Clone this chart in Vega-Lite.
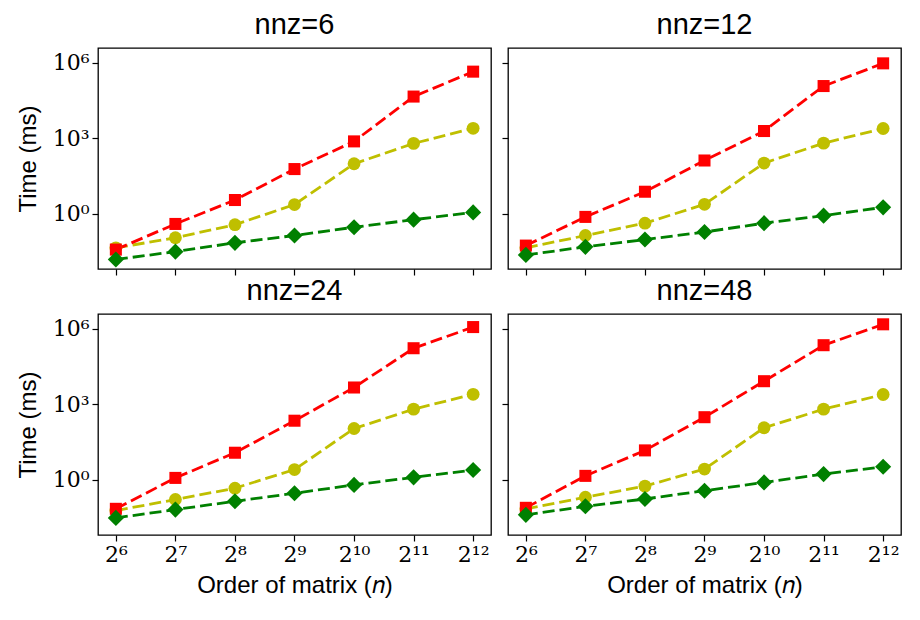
{
  "$schema": "https://vega.github.io/schema/vega-lite/v6.json",
  "background": "white",
  "padding": {"left": 15, "top": 10, "right": 8, "bottom": 5},
  "spacing": -1,
  "config": {
    "view": {"stroke": "black", "strokeWidth": 1.3},
    "axis": {
      "domain": false,
      "grid": false,
      "ticks": true,
      "tickColor": "black",
      "tickSize": 6,
      "tickWidth": 1.2,
      "labelFont": "DejaVu Serif",
      "labelFontSize": 22,
      "labelColor": "black",
      "labelPadding": 3,
      "titleFont": "Liberation Sans",
      "titleFontSize": 24,
      "titleFontWeight": "normal",
      "titleColor": "black"
    },
    "title": {"font": "Liberation Sans", "fontSize": 29, "fontWeight": "normal", "color": "black", "offset": 8},
    "concat": {"spacing": 8}
  },
  "data": {
    "values": [
      {"nnz": 6, "n": 64, "series": "s2", "time": 0.0437},
      {"nnz": 6, "n": 128, "series": "s2", "time": 0.110},
      {"nnz": 6, "n": 256, "series": "s2", "time": 0.363},
      {"nnz": 6, "n": 512, "series": "s2", "time": 2.29},
      {"nnz": 6, "n": 1024, "series": "s2", "time": 95.5},
      {"nnz": 6, "n": 2048, "series": "s2", "time": 617},
      {"nnz": 6, "n": 4096, "series": "s2", "time": 2450},
      {"nnz": 6, "n": 64, "series": "s1", "time": 0.0372},
      {"nnz": 6, "n": 128, "series": "s1", "time": 0.389},
      {"nnz": 6, "n": 256, "series": "s1", "time": 3.47},
      {"nnz": 6, "n": 512, "series": "s1", "time": 58.9},
      {"nnz": 6, "n": 1024, "series": "s1", "time": 741},
      {"nnz": 6, "n": 2048, "series": "s1", "time": 44700},
      {"nnz": 6, "n": 4096, "series": "s1", "time": 437000},
      {"nnz": 6, "n": 64, "series": "s3", "time": 0.0151},
      {"nnz": 6, "n": 128, "series": "s3", "time": 0.0309},
      {"nnz": 6, "n": 256, "series": "s3", "time": 0.0692},
      {"nnz": 6, "n": 512, "series": "s3", "time": 0.135},
      {"nnz": 6, "n": 1024, "series": "s3", "time": 0.288},
      {"nnz": 6, "n": 2048, "series": "s3", "time": 0.575},
      {"nnz": 6, "n": 4096, "series": "s3", "time": 1.12},

      {"nnz": 12, "n": 64, "series": "s2", "time": 0.0437},
      {"nnz": 12, "n": 128, "series": "s2", "time": 0.135},
      {"nnz": 12, "n": 256, "series": "s2", "time": 0.417},
      {"nnz": 12, "n": 512, "series": "s2", "time": 2.34},
      {"nnz": 12, "n": 1024, "series": "s2", "time": 102},
      {"nnz": 12, "n": 2048, "series": "s2", "time": 631},
      {"nnz": 12, "n": 4096, "series": "s2", "time": 2400},
      {"nnz": 12, "n": 64, "series": "s1", "time": 0.0537},
      {"nnz": 12, "n": 128, "series": "s1", "time": 0.741},
      {"nnz": 12, "n": 256, "series": "s1", "time": 7.41},
      {"nnz": 12, "n": 512, "series": "s1", "time": 129},
      {"nnz": 12, "n": 1024, "series": "s1", "time": 1910},
      {"nnz": 12, "n": 2048, "series": "s1", "time": 117000},
      {"nnz": 12, "n": 4096, "series": "s1", "time": 933000},
      {"nnz": 12, "n": 64, "series": "s3", "time": 0.0229},
      {"nnz": 12, "n": 128, "series": "s3", "time": 0.0479},
      {"nnz": 12, "n": 256, "series": "s3", "time": 0.0933},
      {"nnz": 12, "n": 512, "series": "s3", "time": 0.186},
      {"nnz": 12, "n": 1024, "series": "s3", "time": 0.417},
      {"nnz": 12, "n": 2048, "series": "s3", "time": 0.832},
      {"nnz": 12, "n": 4096, "series": "s3", "time": 1.78},

      {"nnz": 24, "n": 64, "series": "s2", "time": 0.0589},
      {"nnz": 24, "n": 128, "series": "s2", "time": 0.162},
      {"nnz": 24, "n": 256, "series": "s2", "time": 0.457},
      {"nnz": 24, "n": 512, "series": "s2", "time": 2.51},
      {"nnz": 24, "n": 1024, "series": "s2", "time": 107},
      {"nnz": 24, "n": 2048, "series": "s2", "time": 631},
      {"nnz": 24, "n": 4096, "series": "s2", "time": 2450},
      {"nnz": 24, "n": 64, "series": "s1", "time": 0.0692},
      {"nnz": 24, "n": 128, "series": "s1", "time": 1.17},
      {"nnz": 24, "n": 256, "series": "s1", "time": 11.7},
      {"nnz": 24, "n": 512, "series": "s1", "time": 219},
      {"nnz": 24, "n": 1024, "series": "s1", "time": 4570},
      {"nnz": 24, "n": 2048, "series": "s1", "time": 166000},
      {"nnz": 24, "n": 4096, "series": "s1", "time": 1150000},
      {"nnz": 24, "n": 64, "series": "s3", "time": 0.0302},
      {"nnz": 24, "n": 128, "series": "s3", "time": 0.0646},
      {"nnz": 24, "n": 256, "series": "s3", "time": 0.138},
      {"nnz": 24, "n": 512, "series": "s3", "time": 0.288},
      {"nnz": 24, "n": 1024, "series": "s3", "time": 0.617},
      {"nnz": 24, "n": 2048, "series": "s3", "time": 1.23},
      {"nnz": 24, "n": 4096, "series": "s3", "time": 2.40},

      {"nnz": 48, "n": 64, "series": "s2", "time": 0.0692},
      {"nnz": 48, "n": 128, "series": "s2", "time": 0.200},
      {"nnz": 48, "n": 256, "series": "s2", "time": 0.550},
      {"nnz": 48, "n": 512, "series": "s2", "time": 2.63},
      {"nnz": 48, "n": 1024, "series": "s2", "time": 115},
      {"nnz": 48, "n": 2048, "series": "s2", "time": 631},
      {"nnz": 48, "n": 4096, "series": "s2", "time": 2400},
      {"nnz": 48, "n": 64, "series": "s1", "time": 0.0759},
      {"nnz": 48, "n": 128, "series": "s1", "time": 1.41},
      {"nnz": 48, "n": 256, "series": "s1", "time": 14.5},
      {"nnz": 48, "n": 512, "series": "s1", "time": 302},
      {"nnz": 48, "n": 1024, "series": "s1", "time": 8130},
      {"nnz": 48, "n": 2048, "series": "s1", "time": 219000},
      {"nnz": 48, "n": 4096, "series": "s1", "time": 1480000},
      {"nnz": 48, "n": 64, "series": "s3", "time": 0.0398},
      {"nnz": 48, "n": 128, "series": "s3", "time": 0.0871},
      {"nnz": 48, "n": 256, "series": "s3", "time": 0.170},
      {"nnz": 48, "n": 512, "series": "s3", "time": 0.363},
      {"nnz": 48, "n": 1024, "series": "s3", "time": 0.776},
      {"nnz": 48, "n": 2048, "series": "s3", "time": 1.66},
      {"nnz": 48, "n": 4096, "series": "s3", "time": 3.24}
    ]
  },
  "vconcat": [
    {
      "hconcat": [
        {
          "width": 393, "height": 221,
          "title": "nnz=6",
          "transform": [{"filter": "datum.nnz == 6"}],
          "encoding": {
            "x": {"field": "n", "type": "quantitative", "scale": {"type": "log", "base": 2, "domain": [51.99, 5042.6], "nice": false},
                  "axis": {"values": [64, 128, 256, 512, 1024, 2048, 4096], "labels": false, "title": null}},
            "y": {"field": "time", "type": "quantitative", "scale": {"type": "log", "domain": [0.00631, 3800000], "nice": false},
                  "axis": {"values": [1, 1000, 1000000], "labelExpr": "datum.value < 10 ? '10⁰' : datum.value < 10000 ? '10³' : '10⁶'", "title": "Time (ms)", "titlePadding": 12}},
            "color": {"field": "series", "type": "nominal", "scale": {"domain": ["s1", "s2", "s3"], "range": ["#ff0000", "#bfbf00", "#008000"]}, "legend": null}
          },
          "layer": [
            {"mark": {"type": "line", "strokeDash": [12, 5], "strokeWidth": 2.8}, "encoding": {"detail": {"field": "series"}}},
            {"mark": {"type": "point", "filled": true, "opacity": 1}, "encoding": {
              "shape": {"field": "series", "type": "nominal", "scale": {"domain": ["s1", "s2", "s3"], "range": ["square", "circle", "M-1,0L0,-1L1,0L0,1Z"]}, "legend": null},
              "size": {"field": "series", "type": "nominal", "scale": {"type": "ordinal", "domain": ["s1", "s2", "s3"], "range": [145, 165, 260]}, "legend": null}}}
          ]
        },
        {
          "width": 393, "height": 221,
          "title": "nnz=12",
          "transform": [{"filter": "datum.nnz == 12"}],
          "encoding": {
            "x": {"field": "n", "type": "quantitative", "scale": {"type": "log", "base": 2, "domain": [51.99, 5042.6], "nice": false},
                  "axis": {"values": [64, 128, 256, 512, 1024, 2048, 4096], "labels": false, "title": null}},
            "y": {"field": "time", "type": "quantitative", "scale": {"type": "log", "domain": [0.00631, 3800000], "nice": false},
                  "axis": {"values": [1, 1000, 1000000], "labels": false, "title": null}},
            "color": {"field": "series", "type": "nominal", "scale": {"domain": ["s1", "s2", "s3"], "range": ["#ff0000", "#bfbf00", "#008000"]}, "legend": null}
          },
          "layer": [
            {"mark": {"type": "line", "strokeDash": [12, 5], "strokeWidth": 2.8}, "encoding": {"detail": {"field": "series"}}},
            {"mark": {"type": "point", "filled": true, "opacity": 1}, "encoding": {
              "shape": {"field": "series", "type": "nominal", "scale": {"domain": ["s1", "s2", "s3"], "range": ["square", "circle", "M-1,0L0,-1L1,0L0,1Z"]}, "legend": null},
              "size": {"field": "series", "type": "nominal", "scale": {"type": "ordinal", "domain": ["s1", "s2", "s3"], "range": [145, 165, 260]}, "legend": null}}}
          ]
        }
      ]
    },
    {
      "hconcat": [
        {
          "width": 393, "height": 221,
          "title": "nnz=24",
          "transform": [{"filter": "datum.nnz == 24"}],
          "encoding": {
            "x": {"field": "n", "type": "quantitative", "scale": {"type": "log", "base": 2, "domain": [51.99, 5042.6], "nice": false},
                  "axis": {"values": [64, 128, 256, 512, 1024, 2048, 4096], "labelExpr": "'2' + ['⁶','⁷','⁸','⁹','¹⁰','¹¹','¹²'][round(log(datum.value) / LN2) - 6]", "title": "Order of matrix (𝑛)", "titlePadding": 8}},
            "y": {"field": "time", "type": "quantitative", "scale": {"type": "log", "domain": [0.00631, 3800000], "nice": false},
                  "axis": {"values": [1, 1000, 1000000], "labelExpr": "datum.value < 10 ? '10⁰' : datum.value < 10000 ? '10³' : '10⁶'", "title": "Time (ms)", "titlePadding": 12}},
            "color": {"field": "series", "type": "nominal", "scale": {"domain": ["s1", "s2", "s3"], "range": ["#ff0000", "#bfbf00", "#008000"]}, "legend": null}
          },
          "layer": [
            {"mark": {"type": "line", "strokeDash": [12, 5], "strokeWidth": 2.8}, "encoding": {"detail": {"field": "series"}}},
            {"mark": {"type": "point", "filled": true, "opacity": 1}, "encoding": {
              "shape": {"field": "series", "type": "nominal", "scale": {"domain": ["s1", "s2", "s3"], "range": ["square", "circle", "M-1,0L0,-1L1,0L0,1Z"]}, "legend": null},
              "size": {"field": "series", "type": "nominal", "scale": {"type": "ordinal", "domain": ["s1", "s2", "s3"], "range": [145, 165, 260]}, "legend": null}}}
          ]
        },
        {
          "width": 393, "height": 221,
          "title": "nnz=48",
          "transform": [{"filter": "datum.nnz == 48"}],
          "encoding": {
            "x": {"field": "n", "type": "quantitative", "scale": {"type": "log", "base": 2, "domain": [51.99, 5042.6], "nice": false},
                  "axis": {"values": [64, 128, 256, 512, 1024, 2048, 4096], "labelExpr": "'2' + ['⁶','⁷','⁸','⁹','¹⁰','¹¹','¹²'][round(log(datum.value) / LN2) - 6]", "title": "Order of matrix (𝑛)", "titlePadding": 8}},
            "y": {"field": "time", "type": "quantitative", "scale": {"type": "log", "domain": [0.00631, 3800000], "nice": false},
                  "axis": {"values": [1, 1000, 1000000], "labels": false, "title": null}},
            "color": {"field": "series", "type": "nominal", "scale": {"domain": ["s1", "s2", "s3"], "range": ["#ff0000", "#bfbf00", "#008000"]}, "legend": null}
          },
          "layer": [
            {"mark": {"type": "line", "strokeDash": [12, 5], "strokeWidth": 2.8}, "encoding": {"detail": {"field": "series"}}},
            {"mark": {"type": "point", "filled": true, "opacity": 1}, "encoding": {
              "shape": {"field": "series", "type": "nominal", "scale": {"domain": ["s1", "s2", "s3"], "range": ["square", "circle", "M-1,0L0,-1L1,0L0,1Z"]}, "legend": null},
              "size": {"field": "series", "type": "nominal", "scale": {"type": "ordinal", "domain": ["s1", "s2", "s3"], "range": [145, 165, 260]}, "legend": null}}}
          ]
        }
      ]
    }
  ]
}
